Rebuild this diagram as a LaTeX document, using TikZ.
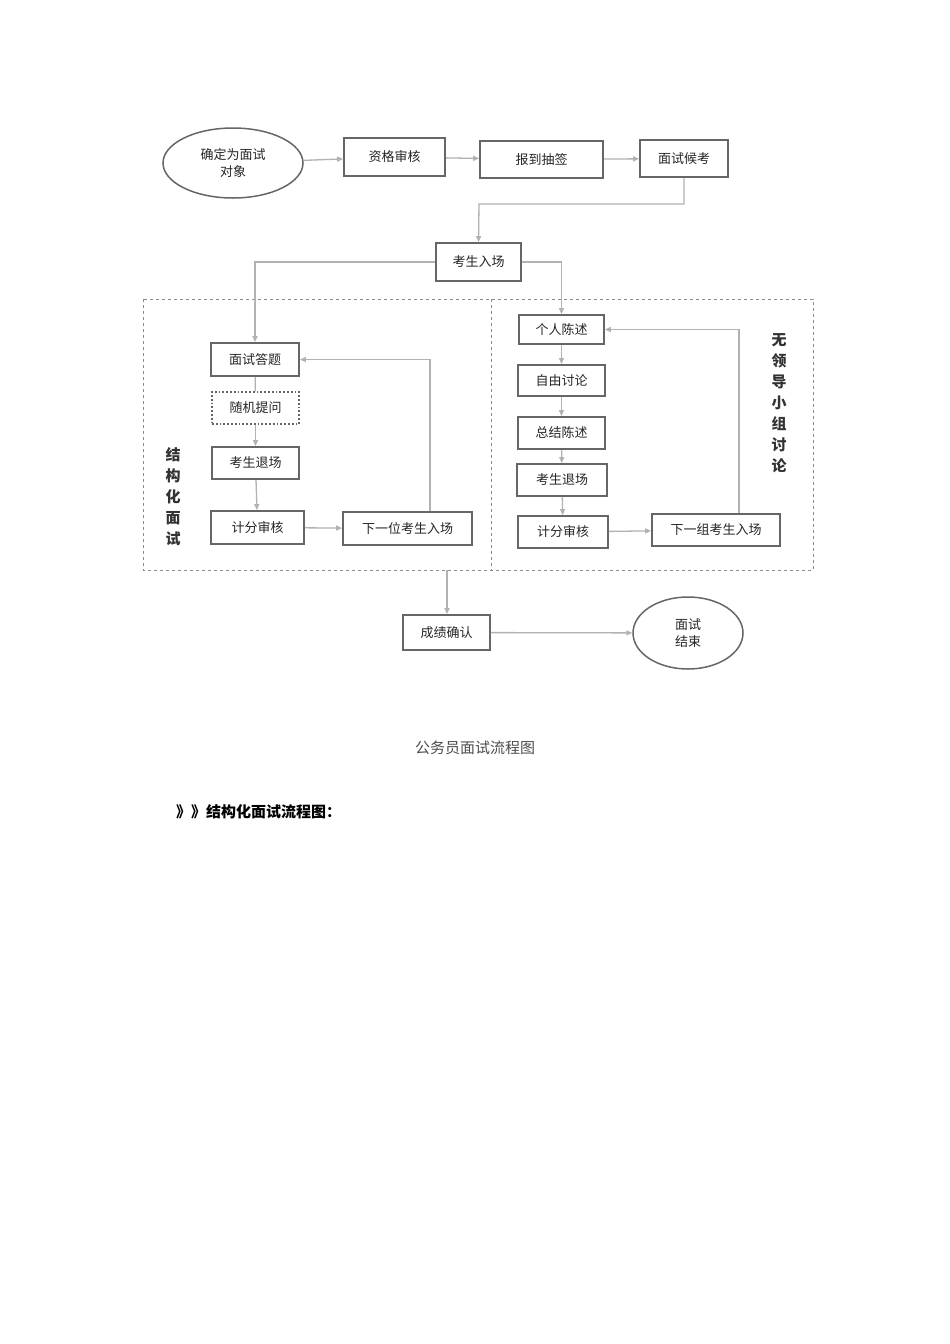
\documentclass[tikz,border=0pt]{standalone}
\usepackage{fontspec}
\newfontfamily\cjk{Noto Sans CJK SC}
\usetikzlibrary{arrows.meta,shapes.geometric}
\begin{document}
\begin{tikzpicture}[x=1pt,y=-1pt,
  bx/.style={draw=black!60,line width=1.8pt,inner sep=0pt,font=\cjk\fontsize{13}{15}\selectfont,text=black!85},
  el/.style={draw=black!60,line width=1.5pt,ellipse,inner sep=0pt,font=\cjk\fontsize{13}{17}\selectfont,align=center,text=black!85},
  ar/.style={draw=black!30,line width=1.3pt,-{Triangle[length=6pt,width=5pt]}},
  ln/.style={draw=black!30,line width=1.3pt},
  vt/.style={font=\cjk\bfseries\fontsize{15}{21}\selectfont,align=center,text=black!80}]
\useasboundingbox (0,0) rectangle (950,1344);
\fill[white] (0,0) rectangle (950,1344);
\def\B(#1,#2,#3,#4,#5,#6){\node[bx,minimum width=#4-#2,minimum height=#5-#3] (#1) at ({(#2+#4)/2},{(#3+#5)/2}) {#6};}
\node[el,minimum width=140,minimum height=70] (start) at (233,163) {确定为面试\\对象};
\B(zg,344,138,445,176,资格审核)
\B(bd,480,141,603,178,报到抽签)
\B(hk,640,140,728,177,面试候考)
\B(rc,436,243,521,281,考生入场)
\draw[dashed,draw=black!45,line width=0.8pt] (143,299) rectangle (813,570);
\draw[dashed,draw=black!45,line width=0.8pt] (491,299) -- (491,570);
\coordinate (bottom) at (447,570);
\B(ms,211,343,299,376,面试答题)
\node[bx,dotted,line width=1.5pt,minimum width=87,minimum height=32] (sj) at (255.5,408) {随机提问};
\B(tc,212,447,299,479,考生退场)
\B(jf,211,511,304,544,计分审核)
\B(xy,343,512,472,545,下一位考生入场)
\B(gr,519,315,604,344,个人陈述)
\B(zy,518,365,605,396,自由讨论)
\B(zj,518,417,605,449,总结陈述)
\B(tc2,517,464,607,496,考生退场)
\B(jf2,518,516,608,548,计分审核)
\B(xz,652,514,780,546,下一组考生入场)
\B(cj,403,615,490,650,成绩确认)
\node[el,minimum width=110,minimum height=72] (end) at (688,633) {面试\\结束};
\node[vt] (l1) at (173,497) {结\\构\\化\\面\\试};
\node[vt] (l2) at (779,403) {无\\领\\导\\小\\组\\讨\\论};
\draw[ar] (start) -- (zg);
\draw[ar] (zg) -- (bd);
\draw[ar] (bd) -- (hk);
\draw[ar] (hk.south) |- (479,204) -- (rc.north);
\draw[ar] (rc.west) -| (ms.north);
\draw[ar] (rc.east) -| (gr.north);
\draw[ln] (ms) -- (sj);
\draw[ar] (sj) -- (tc);
\draw[ar] (tc) -- (jf);
\draw[ar] (jf) -- (xy);
\draw[ar] (xy.north -| 430,0) |- (ms.east);
\draw[ar] (gr) -- (zy);
\draw[ar] (zy) -- (zj);
\draw[ar] (zj) -- (tc2);
\draw[ar] (tc2) -- (jf2);
\draw[ar] (jf2) -- (xz);
\draw[ar] (xz.north -| 739,0) |- (gr.east);
\draw[ar] (bottom) -- (bottom |- cj.north);
\draw[ar] (cj) -- (end);
\node[font=\cjk\fontsize{15}{17}\selectfont,text=black!70] (cap) at (475,748) {公务员面试流程图};
\node[font=\cjk\bfseries\fontsize{15}{17}\selectfont,anchor=west,inner sep=0pt] (h) at (176,812) {》》结构化面试流程图：};
\end{tikzpicture}
\end{document}
